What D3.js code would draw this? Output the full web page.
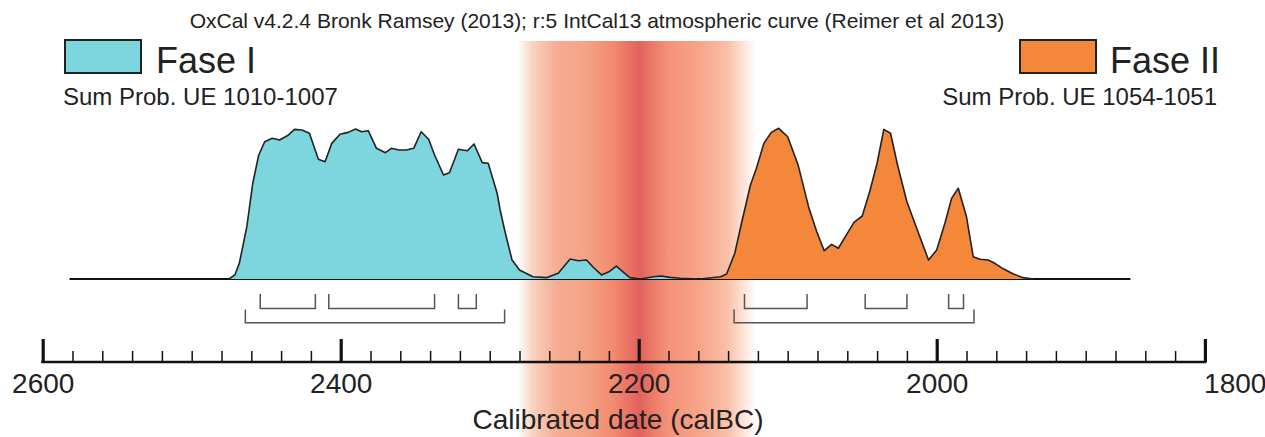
<!DOCTYPE html>
<html>
<head>
<meta charset="utf-8">
<script src="https://cdn.jsdelivr.net/npm/d3@7"></script>
<style>
body { margin:0; background:#fff; }
text { font-family: "Liberation Sans", Arial, sans-serif; fill:#222; }
</style>
</head>
<body>
<svg></svg>
<script>
// summed probability, [calBC year, relative prob (max = 100)]
var faseI = [
[2475,0],[2471,2.7],[2468,10.6],[2463,34.7],[2459,63.7],[2455,82.3],[2451,91.1],[2446,93.4],
[2441,92.2],[2435,95.6],[2431,99.3],[2426,98.9],[2421,96.7],[2415,79.4],[2410.5,77.8],[2406,90],
[2400.5,96],[2395,97.3],[2390,99.5],[2386,97.7],[2381.5,98.4],[2376,86.7],[2370,83.8],[2366,86.7],
[2361,85.6],[2356,85.6],[2351,86.7],[2346,97.7],[2341,92.7],[2337,82.3],[2331,69],[2327,70.5],
[2321,86.1],[2315,85.1],[2310.5,89.6],[2305,77.2],[2301,76.8],[2295,56.9],[2293,45.8],[2290,32.5],
[2285,12.6],[2280,6],[2271,1.5],[2262,0.9],[2254,3.8],[2246,13.3],[2240.5,12.1],[2235,12.6],
[2230.5,7.8],[2225,2.7],[2220,4.8],[2215,8.6],[2210,4.2],[2206,0.9],[2199,0],[2190,1.5],
[2185,2],[2179,1.1],[2172,0.5],[2160,0]
]
var faseII = [
[2159,0],[2145,1.5],[2141,3.3],[2135.5,17.1],[2131,37],[2125,62.4],[2121,73.5],[2116,90],
[2111,97.3],[2106,100],[2100,94.4],[2093,75.6],[2086,48],[2080.5,31.4],[2075.5,18.8],[2070.5,23],
[2066,20.4],[2060,30.3],[2055.5,37.6],[2050,41.8],[2045,57.9],[2040,76.8],[2035.5,99.3],[2031,96.7],
[2026,74.5],[2020,51.3],[2013,32.5],[2005.5,12.6],[2000,19.2],[1994.5,37],[1990,53.5],[1985.5,60.2],
[1980,41.3],[1975.5,14.8],[1971,13.1],[1965.5,12.6],[1961,10.4],[1955,6.6],[1948.5,3.3],[1942,0.9],
[1935,0]
]
// 68.2% and 95.4% ranges
var faseIRanges68 = [[2454,2417],[2408,2337],[2321,2309]]
var faseIRanges95 = [[2464,2290]]
var faseIIRanges68 = [[2129,2087],[2048,2020],[1992,1982]]
var faseIIRanges95 = [[2136,1975]]

var baselineRange = [2582, 1870]
var bandRange = [2281, 2121]
var majorTicks = [2600, 2400, 2200, 2000, 1820]
var tickLabels = [2600, 2400, 2200, 2000, 1800]
var axisEnd = 1820

var titleText = "OxCal v4.2.4 Bronk Ramsey (2013); r:5 IntCal13 atmospheric curve (Reimer et al 2013)"
var legendNames = ["Fase I", "Fase II"]
var legendSubs = ["Sum Prob. UE 1010-1007", "Sum Prob. UE 1054-1051"]
var colors = ["#7dd6dd", "#f5873b"]

var screen = {width:1265, height:437}

var svg = d3.select("svg").attr("width", screen.width).attr("height", screen.height)

var x = d3.scaleLinear().domain([2600, 2000]).range([42.7, 936.7])
var y = d3.scaleLinear().domain([0, 100]).range([279, 128.3])

// red band
var grad = svg.append("defs").append("linearGradient").attr("id", "band")
var stops = [[0,"#ffffff"],[0.06,"#f9d2c2"],[0.16,"#f6ad93"],[0.3,"#f5a083"],[0.4,"#f28a6e"],
  [0.47,"#e96f63"],[0.51,"#e0625c"],[0.56,"#ea7866"],[0.63,"#f4927a"],[0.75,"#f7a286"],
  [0.88,"#f9c1a8"],[1,"#ffffff"]]
grad.selectAll("stop").data(stops).enter().append("stop")
  .attr("offset", function(d){ return d[0] })
  .attr("stop-color", function(d){ return d[1] })
svg.append("rect")
  .attr("x", x(bandRange[0])).attr("width", x(bandRange[1]) - x(bandRange[0]))
  .attr("y", 41).attr("height", screen.height - 41)
  .attr("fill", "url(#band)")

// title
svg.append("text").attr("x", 597).attr("y", 28).attr("text-anchor", "middle")
  .style("font-size", "21px").text(titleText)

// curves
var area = d3.area()
  .x(function(d){ return x(d[0]) })
  .y0(y(0))
  .y1(function(d){ return y(d[1]) })
var line = d3.line()
  .x(function(d){ return x(d[0]) })
  .y(function(d){ return y(d[1]) })

svg.append("line")
  .attr("x1", x(baselineRange[0])).attr("x2", x(baselineRange[1]))
  .attr("y1", y(0)).attr("y2", y(0))
  .attr("stroke", "#111").attr("stroke-width", 2)

;[faseI, faseII].forEach(function(series, i)
{
  svg.append("path").datum(series).attr("d", area).attr("fill", colors[i])
  svg.append("path").datum(series).attr("d", line)
    .attr("fill", "none").attr("stroke", "#222").attr("stroke-width", 1.6).attr("stroke-linejoin", "round")
})

// range brackets
var bracket = function(r, top, bottom)
{
  return "M" + x(r[0]) + "," + top + "V" + bottom + "H" + x(r[1]) + "V" + top
}
var bracketRows = [[faseIRanges68, 294, 308.5], [faseIRanges95, 309.5, 322.7],
  [faseIIRanges68, 294, 308.5], [faseIIRanges95, 309.5, 322.7]]
bracketRows.forEach(function(row)
{
  svg.selectAll(null).data(row[0]).enter().append("path")
    .attr("d", function(r){ return bracket(r, row[1], row[2]) })
    .attr("fill", "none").attr("stroke", "#555").attr("stroke-width", 1.5)
})

// axis
var axisY = 362
var minorTicks = d3.range(2580, axisEnd, -20).filter(function(t){ return t % 200 != 0 })
var gAxis = svg.append("g").attr("transform", "translate(0," + axisY + ")")

gAxis.append("g").call(d3.axisBottom(x).tickValues(minorTicks).tickSize(-11).tickFormat(""))
gAxis.append("g").attr("class", "major").call(d3.axisBottom(x).tickValues(majorTicks).tickSize(-23).tickFormat(""))
gAxis.append("g").attr("class", "labels").call(d3.axisBottom(x).tickValues(tickLabels).tickSize(0).tickPadding(11).tickFormat(d3.format("d")))
gAxis.selectAll(".domain").remove()
gAxis.selectAll(".tick line").attr("stroke", "#111").attr("stroke-width", 1.5)
gAxis.selectAll(".major .tick line").attr("stroke-width", 3.2)
gAxis.selectAll(".labels text").style("font-size", "28px").attr("fill", "#222")
  .style("font-family", "'Liberation Sans', Arial, sans-serif")
gAxis.append("line").attr("x1", x(2600) - 1.5).attr("x2", x(axisEnd) + 1.5)
  .attr("stroke", "#111").attr("stroke-width", 2.5)

svg.append("text").attr("x", 618).attr("y", 429).attr("text-anchor", "middle")
  .style("font-size", "28px").text("Calibrated date (calBC)")

// legends
var legendPos = [{box:65, text:156, sub:63, anchor:"start"}, {box:1020, text:1110, sub:1217, anchor:"end"}]
legendPos.forEach(function(p, i)
{
  svg.append("rect").attr("x", p.box).attr("y", 40).attr("width", 76).attr("height", 33)
    .attr("fill", colors[i]).attr("stroke", "#222").attr("stroke-width", 2)
  svg.append("text").attr("x", p.text).attr("y", 73).style("font-size", "36px").text(legendNames[i])
  svg.append("text").attr("x", p.sub).attr("y", 105).attr("text-anchor", p.anchor)
    .style("font-size", "24px").text(legendSubs[i])
})
</script>
</body>
</html>
